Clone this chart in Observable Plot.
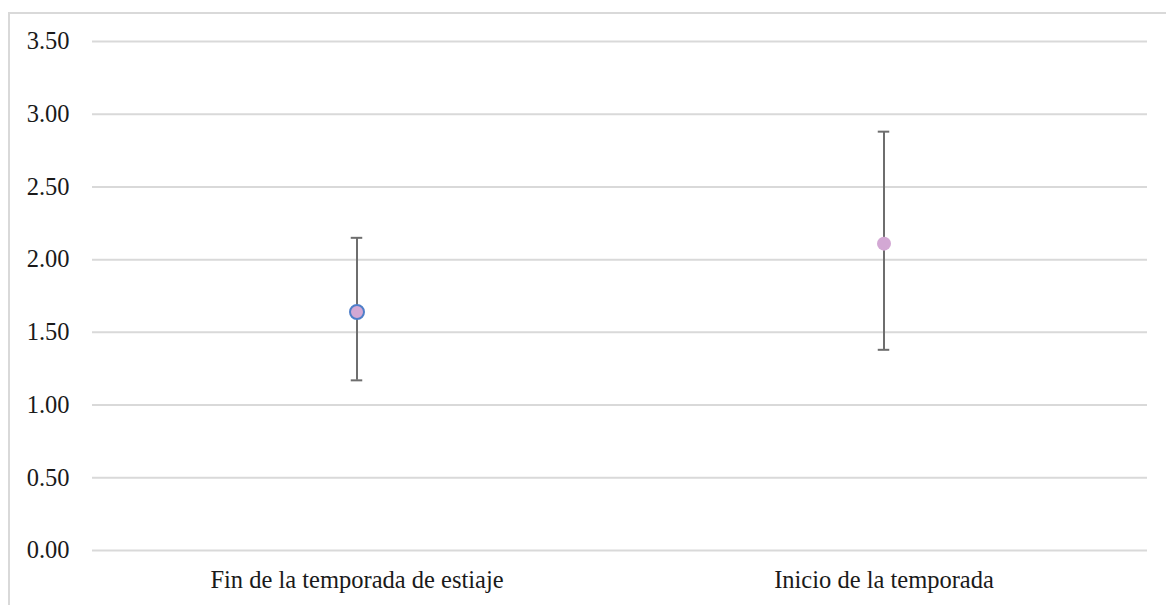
<!DOCTYPE html>
<html>
<head>
<meta charset="utf-8">
<script src="https://cdn.jsdelivr.net/npm/d3@7"></script>
<script src="https://cdn.jsdelivr.net/npm/@observablehq/plot@0.6"></script>
<style>
  html, body { margin: 0; padding: 0; background: #ffffff; }
  #wrap { position: relative; width: 1166px; height: 605px; overflow: hidden; }
  #border { position: absolute; left: 8px; top: 12px; width: 1200px; height: 640px;
            border: 2px solid #d9d9d9; box-sizing: border-box; pointer-events: none; }
  #chart { position: absolute; left: 0; top: 0; }
</style>
</head>
<body>
<div id="wrap">
  <div id="border"></div>
  <div id="chart"></div>
</div>
<script>
// Seasons compared
const categories = ["Fin de la temporada de estiaje", "Inicio de la temporada"];
// Mean value per season with the lower/upper bounds of its error bar
const means = [1.64, 2.11];
const lower = [1.17, 1.38];
const upper = [2.15, 2.88];
// Y axis ticks
const yTicks = [0, 0.5, 1, 1.5, 2, 2.5, 3, 3.5];

const rows = categories.map((c, i) => ({ season: c, mean: means[i], lo: lower[i], hi: upper[i], first: i === 0 }));

const W = 1166, H = 605;
const mL = 92, mR = 19;
const band = (W - mL - mR) / categories.length;
const capHalf = 6;
const FS = 24.5;

const chart = Plot.plot({
  width: W,
  height: H,
  marginLeft: mL,
  marginRight: mR,
  marginTop: 41,
  marginBottom: 55,
  style: { fontFamily: "'Liberation Serif', serif", fontSize: FS + "px", background: "transparent" },
  x: { type: "band", domain: categories, padding: 0, label: null, tickSize: 0, tickPadding: 20 },
  y: { domain: [0, 3.5], ticks: yTicks, tickFormat: d3.format(".2f"), label: null, tickSize: 0, tickPadding: 23 },
  marks: [
    Plot.gridY(yTicks, { stroke: "#d9d9d9", strokeOpacity: 1, strokeWidth: 2 }),
    Plot.ruleX(rows, { x: "season", y1: "lo", y2: "hi", stroke: "#6e6e6e", strokeWidth: 2 }),
    Plot.tickY(rows, { x: "season", y: "lo", stroke: "#6e6e6e", strokeWidth: 2, insetLeft: band / 2 - capHalf, insetRight: band / 2 - capHalf }),
    Plot.tickY(rows, { x: "season", y: "hi", stroke: "#6e6e6e", strokeWidth: 2, insetLeft: band / 2 - capHalf, insetRight: band / 2 - capHalf }),
    Plot.dot(rows, { x: "season", y: "mean", r: 7, fill: "#d3a8d4", fillOpacity: 1,
      stroke: d => d.first ? "#4f7fc9" : "none", strokeWidth: 2 }),
    Plot.axisX({ fill: "#1a1a1a", tickSize: 0, tickPadding: 20, fontSize: FS }),
    Plot.axisY({ ticks: yTicks, tickFormat: d3.format(".2f"), fill: "#1a1a1a", tickSize: 0, tickPadding: 23, fontSize: FS })
  ]
});
document.getElementById("chart").appendChild(chart);
</script>
</body>
</html>
